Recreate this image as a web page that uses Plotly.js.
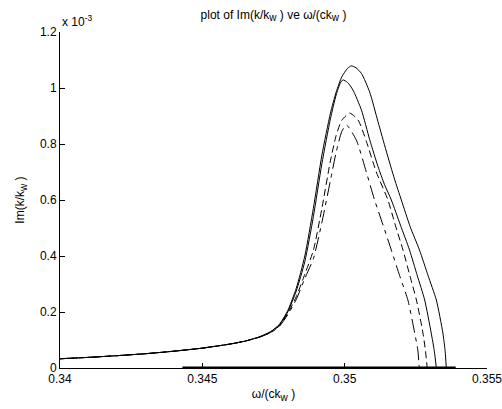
<!DOCTYPE html>
<html>
<head>
<meta charset="utf-8">
<script src="https://cdn.plot.ly/plotly-3.0.1.min.js"></script>
<style>html,body{margin:0;padding:0;background:#fff;}#plot{width:502px;height:409px;}</style>
</head>
<body>
<div id="plot"></div>
<script>
// values of Im(k/kw) in units of 1e-3
const aX = [0.340,0.341,0.342,0.343,0.344,0.345,0.346,0.3465,0.347,0.3474,0.3477,0.3480,0.3483,0.3486,0.3489,0.3492,0.3495,0.3497,0.3499,0.3501,0.35023,0.35040,0.35059,0.35088,0.35117,0.35146,0.35175,0.35199,0.35230,0.35263,0.35293,0.35322,0.35345,0.35353,0.35357];
const aY = [0.033,0.038,0.044,0.051,0.060,0.071,0.086,0.096,0.111,0.130,0.155,0.205,0.285,0.400,0.570,0.760,0.910,0.985,1.040,1.070,1.079,1.072,1.052,0.985,0.880,0.775,0.675,0.600,0.505,0.421,0.330,0.243,0.125,0.060,0.0];

const bX = [0.340,0.341,0.342,0.343,0.344,0.345,0.346,0.3465,0.347,0.3474,0.3477,0.3480,0.3483,0.3486,0.3489,0.3492,0.3495,0.3497,0.34985,0.34994,0.35010,0.35029,0.35059,0.35088,0.35117,0.35140,0.35164,0.35196,0.35228,0.35255,0.35281,0.35304,0.35315,0.35322];
const bY = [0.033,0.038,0.044,0.051,0.060,0.071,0.086,0.096,0.111,0.129,0.153,0.200,0.275,0.380,0.540,0.730,0.890,0.975,1.018,1.029,1.020,0.993,0.921,0.815,0.720,0.655,0.600,0.510,0.421,0.330,0.243,0.125,0.060,0.0];

const cX = [0.340,0.341,0.342,0.343,0.344,0.345,0.346,0.3465,0.347,0.3474,0.3477,0.3480,0.3483,0.3486,0.3489,0.3492,0.3495,0.3497,0.3499,0.35018,0.35047,0.35076,0.35111,0.35152,0.35178,0.35205,0.35229,0.35252,0.35275,0.35284,0.35290];
const cY = [0.033,0.038,0.044,0.051,0.060,0.071,0.086,0.096,0.110,0.127,0.150,0.195,0.255,0.335,0.420,0.570,0.740,0.830,0.885,0.910,0.886,0.810,0.700,0.600,0.510,0.421,0.330,0.243,0.125,0.060,0.0];

const dX = [0.340,0.341,0.342,0.343,0.344,0.345,0.346,0.3465,0.347,0.3474,0.3477,0.3480,0.3483,0.3486,0.3489,0.3492,0.3495,0.3497,0.3499,0.35006,0.35041,0.35076,0.35105,0.35135,0.35164,0.35193,0.35222,0.35246,0.35257,0.35262];
const dY = [0.033,0.038,0.044,0.051,0.060,0.071,0.086,0.096,0.110,0.126,0.148,0.190,0.245,0.320,0.390,0.520,0.670,0.770,0.845,0.868,0.814,0.700,0.600,0.510,0.421,0.330,0.243,0.125,0.064,0.0];

const zeroX = [0.3443, 0.3539];
const zeroY = [0, 0];

const xTicks = [0.34, 0.345, 0.35, 0.355];
const xTickText = ['0.34', '0.345', '0.35', '0.355'];
const yTicks = [0, 0.2, 0.4, 0.6, 0.8, 1, 1.2];
const yTickText = ['0', '0.2', '0.4', '0.6', '0.8', '1', '1.2'];

const FONT = 'Liberation Sans, Arial, sans-serif';
const SUBW = '<sub><span style="font-size:10px">w</span></sub>';
const ln = (dash) => ({color: '#000', width: 1, dash: dash, shape: 'spline', smoothing: 0.6});

const traces = [
  {x: zeroX, y: zeroY, mode: 'lines', line: {color: '#000', width: 3}, hoverinfo: 'skip'},
  {x: aX, y: aY, mode: 'lines', line: ln('solid')},
  {x: bX, y: bY, mode: 'lines', line: ln('solid')},
  {x: cX, y: cY, mode: 'lines', line: ln('7px,4px')},
  {x: dX, y: dY, mode: 'lines', line: ln('14px,5px,4px,5px')}
];

const axisCommon = {
  showline: true, linecolor: '#000', linewidth: 1, mirror: false,
  showgrid: false, zeroline: false,
  ticks: 'inside', ticklen: 5, tickwidth: 1, tickcolor: '#000',
  tickfont: {family: FONT, size: 12, color: '#000'},
  ticklabeloverflow: 'allow',
  fixedrange: true
};

const layout = {
  width: 502, height: 409,
  margin: {l: 60, r: 14.5, t: 32, b: 41},
  paper_bgcolor: '#fff', plot_bgcolor: '#fff',
  showlegend: false,
  font: {family: FONT, size: 12, color: '#000'},
  title: {text: 'plot of Im(k/k' + SUBW + ' ) ve ω/(ck' + SUBW + ' )', x: 0.5, xref: 'paper', y: 0.965, yref: 'container', yanchor: 'middle', font: {family: FONT, size: 12, color: '#000'}},
  xaxis: Object.assign({}, axisCommon, {
    range: [0.34, 0.355], tickmode: 'array', tickvals: xTicks, ticktext: xTickText,
    title: {text: 'ω/(ck' + SUBW + ' )', font: {family: FONT, size: 12, color: '#000'}, standoff: 4}
  }),
  yaxis: Object.assign({}, axisCommon, {
    range: [0, 1.2], tickmode: 'array', tickvals: yTicks, ticktext: yTickText,
    title: {text: 'Im(k/k' + SUBW + ' )', font: {family: FONT, size: 12, color: '#000'}, standoff: 12}
  }),
  annotations: [{
    xref: 'paper', yref: 'paper', x: 0, y: 1, xanchor: 'left', yanchor: 'bottom',
    text: 'x 10<sup>-3</sup>', showarrow: false, xshift: 0, yshift: 1,
    font: {family: FONT, size: 12, color: '#000'}
  }]
};

Plotly.newPlot('plot', traces, layout, {displayModeBar: false, staticPlot: true});
</script>
</body>
</html>
